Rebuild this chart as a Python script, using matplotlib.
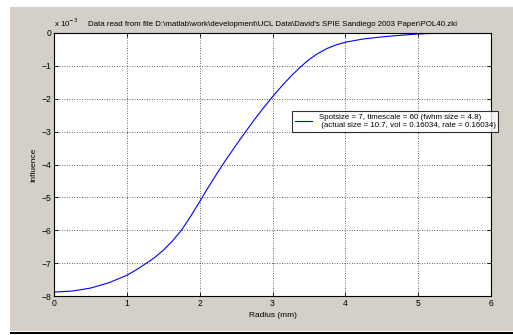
import matplotlib.pyplot as plt
from matplotlib.patches import Rectangle
from matplotlib.ticker import MultipleLocator

# influence profile (values in units of 1e-3)
radius_mm = [0.0, 0.25, 0.5, 0.75, 1.0, 1.125, 1.25, 1.375, 1.5, 1.625, 1.75,
             1.875, 2.0, 2.125, 2.25, 2.375, 2.5, 2.625, 2.75, 2.875, 3.0,
             3.125, 3.25, 3.375, 3.5, 3.625, 3.75, 3.875, 4.0, 4.25, 4.5,
             4.75, 5.0, 5.25, 5.35]
influence_e3 = [-7.88, -7.85, -7.76, -7.60, -7.37, -7.21, -7.03, -6.84, -6.61,
                -6.33, -6.0, -5.58, -5.13, -4.67, -4.23, -3.81, -3.41, -3.02,
                -2.64, -2.28, -1.94, -1.62, -1.32, -1.05, -0.81, -0.62, -0.47,
                -0.36, -0.28, -0.18, -0.12, -0.07, -0.03, -0.008, 0.0]

title_text = ("Data read from file D:\\matlab\\work\\development\\UCL Data"
              "\\David's SPIE Sandiego 2003 Paper\\POL40.zki")
legend_text = ("Spotsize = 7, timescale = 60 (fwhm size = 4.8)\n"
               " (actual size = 10.7, vol = 0.16034, rate = 0.16034)")

plt.rcParams["font.family"] = ["Liberation Sans", "DejaVu Sans"]
FS = 5.7

W, H = 513, 335
fig = plt.figure(figsize=(W / 100, H / 100), dpi=100)
fig.patch.set_facecolor("white")

# window background and bottom rule
fig.patches.append(Rectangle((10 / W, (H - 331) / H), (W - 10) / W, 324 / H,
                             transform=fig.transFigure, facecolor="#d4d0c8",
                             edgecolor="none", zorder=-10))
fig.patches.append(Rectangle((10 / W, (H - 334) / H), (W - 10) / W, 2 / H,
                             transform=fig.transFigure, facecolor="black",
                             edgecolor="none", zorder=-10))

ax = fig.add_axes([54 / W, (H - 296) / H, 437 / W, 263 / H])
ax.set_facecolor("white")

ax.plot(radius_mm, influence_e3, color="#0000ff", linewidth=0.8,
        label=legend_text)

ax.set_xlim(0, 6)
ax.set_ylim(-8, 0)
ax.xaxis.set_major_locator(MultipleLocator(1))
ax.yaxis.set_major_locator(MultipleLocator(1))
ax.grid(True, color="#303030", linestyle=(0, (1, 2)), linewidth=0.6)
ax.tick_params(direction="in", length=3, width=0.6, labelsize=6.2,
               top=True, right=True, pad=2)
for s in ax.spines.values():
    s.set_linewidth(0.8)
    s.set_color("black")

ax.set_xlabel("Radius (mm)", fontsize=6, labelpad=3)
ax.set_ylabel("Influence", fontsize=6, labelpad=3)
ax.set_title(title_text, fontsize=FS, pad=5)
ax.text(0.0, 1.015, "x 10$^{-3}$", transform=ax.transAxes, fontsize=FS,
        ha="left", va="bottom")

leg = ax.legend(loc="upper left", fontsize=FS, frameon=True, fancybox=False,
                bbox_to_anchor=(292 / W, (H - 111) / H),
                bbox_transform=fig.transFigure, handlelength=2.2,
                handletextpad=0.8, borderpad=0.35, borderaxespad=0)
leg.get_frame().set_edgecolor("black")
leg.get_frame().set_linewidth(0.8)

fig.savefig("out.png", dpi=100)
